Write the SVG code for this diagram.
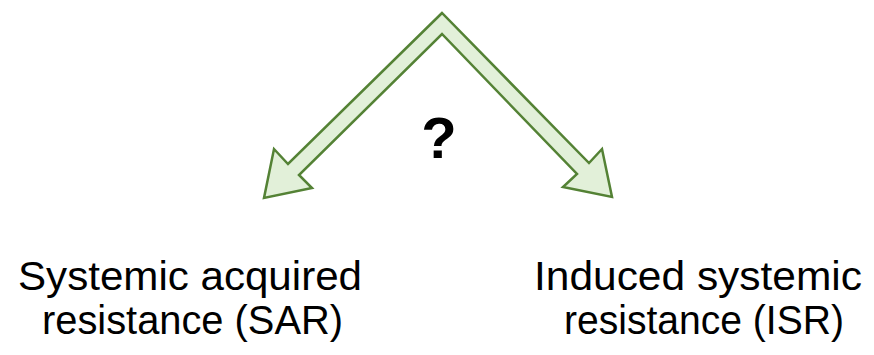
<svg xmlns="http://www.w3.org/2000/svg" width="874" height="355" viewBox="0 0 874 355">
<style>
.lbl{font-family:"Liberation Sans",Arial,sans-serif;font-size:40px;fill:#000}
.q{font-family:"Liberation Sans",Arial,sans-serif;font-size:58px;font-weight:bold;fill:#000}
.arrow{fill:#e2f0d9;stroke:#548235;stroke-width:2.5;stroke-linejoin:miter}
</style>
<rect width="874" height="355" fill="#fff"/>
<g id="connectors">
<polygon class="arrow" points="442,13 288,164 274,149 264,198 312,188 299,175 442,34 577,174 563,187 612,197 602,149 589,163"/>
</g>
<g id="question">
<text class="q" x="439" y="158" text-anchor="middle">?</text>
</g>
<g id="sar">
<text class="lbl" x="18" y="290" textLength="344" lengthAdjust="spacingAndGlyphs">Systemic acquired</text>
<text class="lbl" x="42" y="334" textLength="301" lengthAdjust="spacingAndGlyphs">resistance (SAR)</text>
</g>
<g id="isr">
<text class="lbl" x="534" y="290" textLength="328" lengthAdjust="spacingAndGlyphs">Induced systemic</text>
<text class="lbl" x="564" y="334" textLength="280" lengthAdjust="spacingAndGlyphs">resistance (ISR)</text>
</g>
</svg>
